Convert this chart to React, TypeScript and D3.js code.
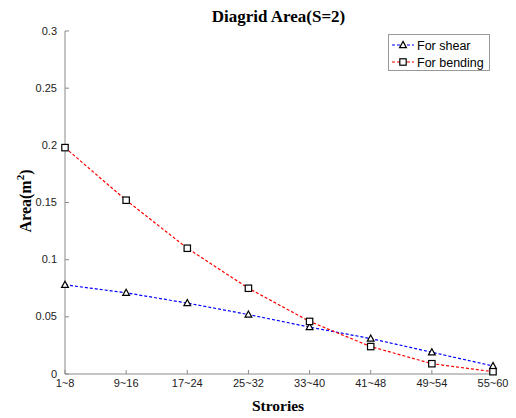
import React from "react";
import * as d3 from "d3";

const categories = ["1~8", "9~16", "17~24", "25~32", "33~40", "41~48", "49~54", "55~60"];
const shear = [0.078, 0.071, 0.062, 0.052, 0.041, 0.031, 0.019, 0.007];
const bending = [0.198, 0.152, 0.110, 0.075, 0.046, 0.024, 0.009, 0.002];
const yTicks = [0, 0.05, 0.1, 0.15, 0.2, 0.25, 0.3];
const yTickLabels = ["0", "0.05", "0.1", "0.15", "0.2", "0.25", "0.3"];

const W = 516, H = 418;
const left = 65, right = 493, top = 31, bottom = 374;

export default function App() {
  const x = d3.scalePoint<string>().domain(categories).range([left, right]);
  const y = d3.scaleLinear().domain([0, 0.3]).range([bottom, top]);
  const line = d3.line<number>().x((_, i) => x(categories[i])!).y((d) => y(d));
  const tickFont = "'Liberation Sans', Arial, sans-serif";
  const serif = "'Liberation Serif', 'Times New Roman', serif";
  const axisColor = "#8a8a8a";

  const tri = (cx: number, cy: number, color = "#000") => (
    <path d={`M${cx},${cy - 3.6}L${cx + 3.4},${cy + 2.6}L${cx - 3.4},${cy + 2.6}Z`} fill="white" stroke={color} strokeWidth={1.2} />
  );
  const sq = (cx: number, cy: number) => (
    <rect x={cx - 3.2} y={cy - 3.2} width={6.4} height={6.4} fill="white" stroke="#000" strokeWidth={1.2} />
  );

  return (
    <svg width={W} height={H} style={{ position: "absolute", left: 0, top: 0, background: "white" }}>
      <rect width={W} height={H} fill="white" />
      <text x={278.5} y={22} textAnchor="middle" fontFamily={serif} fontWeight="bold" fontSize={17}>Diagrid Area(S=2)</text>

      {/* axes */}
      <line x1={left} y1={bottom} x2={right} y2={bottom} stroke={axisColor} strokeWidth={1} />
      <line x1={left} y1={bottom} x2={left} y2={top} stroke={axisColor} strokeWidth={1} />
      {yTicks.map((t, i) => (
        <g key={"y" + i}>
          <line x1={left} x2={left + 4} y1={y(t)} y2={y(t)} stroke={axisColor} />
          <text x={left - 8} y={y(t) + 3.5} textAnchor="end" fontFamily={tickFont} fontSize={11} fill="#222">{yTickLabels[i]}</text>
        </g>
      ))}
      {categories.map((c) => (
        <g key={c}>
          <line x1={x(c)} x2={x(c)} y1={bottom} y2={bottom - 4} stroke={axisColor} />
          <text x={x(c)} y={bottom + 13} textAnchor="middle" fontFamily={tickFont} fontSize={11} fill="#222">{c}</text>
        </g>
      ))}
      <text x={278} y={411} textAnchor="middle" fontFamily={serif} fontWeight="bold" fontSize={15.5}>Strories</text>
      <text transform={`translate(31,201) rotate(-90)`} textAnchor="middle" fontFamily={serif} fontWeight="bold" fontSize={16}>
        Area(m<tspan dy={-7} fontSize={11}>2</tspan><tspan dy={7}>)</tspan>
      </text>

      {/* series */}
      <path d={line(shear)!} fill="none" stroke="#0000ff" strokeWidth={1.2} strokeDasharray="3,2" />
      <path d={line(bending)!} fill="none" stroke="#ff0000" strokeWidth={1.2} strokeDasharray="3,2" />
      {shear.map((v, i) => <g key={"s" + i}>{tri(x(categories[i])!, y(v))}</g>)}
      {bending.map((v, i) => <g key={"b" + i}>{sq(x(categories[i])!, y(v))}</g>)}

      {/* legend */}
      <rect x={388.5} y={34.5} width={101} height={36} fill="white" stroke="#999" />
      <line x1={392} x2={414} y1={45} y2={45} stroke="#0000ff" strokeWidth={1.2} strokeDasharray="3,2" />
      {tri(403, 45)}
      <text x={417} y={49.5} fontFamily={tickFont} fontSize={12.5}>For shear</text>
      <line x1={392} x2={414} y1={62} y2={62} stroke="#ff0000" strokeWidth={1.2} strokeDasharray="3,2" />
      {sq(403, 62)}
      <text x={417} y={66.5} fontFamily={tickFont} fontSize={12.5}>For bending</text>
    </svg>
  );
}
